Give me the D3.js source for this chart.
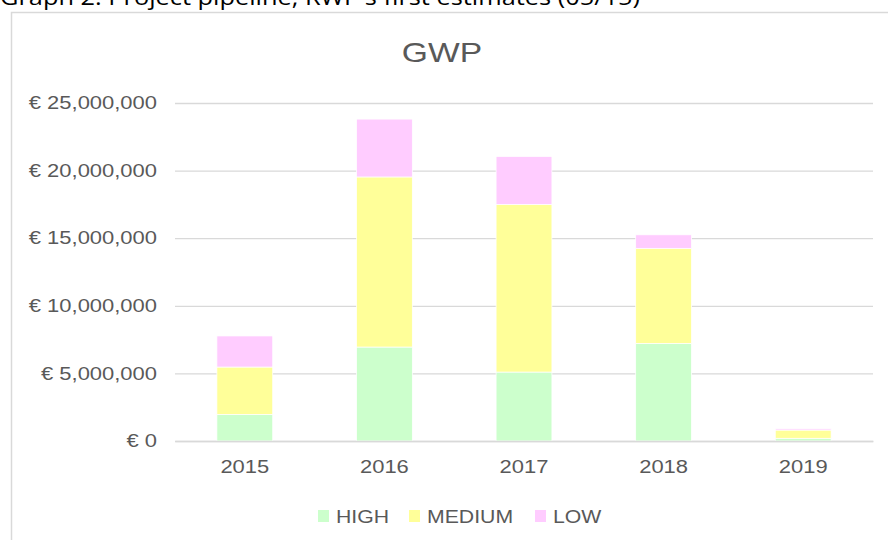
<!DOCTYPE html>
<html>
<head>
<meta charset="utf-8">
<script src="https://cdn.jsdelivr.net/npm/d3@7/dist/d3.min.js"></script>
<style>
  body { margin: 0; background: #fff; }
  svg { display: block; }
</style>
</head>
<body>
<svg id="chart"></svg>
<script>
var width = 888,
    height = 540;

// data (euro)
var years = ["2015", "2016", "2017", "2018", "2019"];
var high = [1970000, 6950000, 5100000, 7220000, 200000];
var medium = [3500000, 12580000, 12400000, 7030000, 610000];
var low = [2300000, 4280000, 3550000, 1000000, 100000];
var seriesNames = ["HIGH", "MEDIUM", "LOW"];
var seriesColors = ["#ccffcc", "#ffff99", "#ffccff"];
var yTicks = [0, 5000000, 10000000, 15000000, 20000000, 25000000];

var svg = d3.select("#chart")
    .attr("width", width)
    .attr("height", height);

// the source picture is stretched sideways, so widen the texts a bit
function stretch(sel, k) {
    sel.each(function() {
        var w = this.getComputedTextLength();
        d3.select(this)
            .attr("textLength", w * k)
            .attr("lengthAdjust", "spacingAndGlyphs");
    });
}

// caption above the chart frame (cut off at the top of the page)
svg.append("text")
    .attr("x", 0)
    .attr("y", 5)
    .style("font-family", "'Open Sans', 'Noto Sans', sans-serif")
    .style("font-size", "22px")
    .style("fill", "#000")
    .text("Graph 2: Project pipeline, RWP's first estimates (05/15)")
    .attr("textLength", 640)
    .attr("lengthAdjust", "spacingAndGlyphs");

// chart frame
svg.append("rect")
    .attr("x", 11.5)
    .attr("y", 12.5)
    .attr("width", 900)
    .attr("height", 600)
    .style("fill", "#fff")
    .style("stroke", "#d9d9d9")
    .style("stroke-width", 1.5);

var margin = {top: 103, right: 15, bottom: 99, left: 175};
var plotW = width - margin.left - margin.right,
    plotH = height - margin.top - margin.bottom;

var g = svg.append("g")
    .attr("transform", "translate(" + margin.left + "," + margin.top + ")");

var x = d3.scaleBand().domain(years).range([0, plotW]).paddingInner(0.6).paddingOuter(0.3);
var y = d3.scaleLinear().domain([0, 25000000]).range([plotH, 0]);

var rows = years.map(function(yr, i) {
    return {year: yr, HIGH: high[i], MEDIUM: medium[i], LOW: low[i]};
});
var stacked = d3.stack().keys(seriesNames)(rows);

var fmt = function(d) { return "€ " + d3.format(",")(d); };

// gridlines + y labels
var yAxis = g.append("g")
    .call(d3.axisLeft(y).tickValues(yTicks).tickSize(-plotW).tickFormat(fmt).tickPadding(18));
yAxis.select(".domain").remove();
yAxis.selectAll(".tick line").style("stroke", "#d9d9d9").style("stroke-width", 1.3);
yAxis.selectAll(".tick text")
    .style("font-family", "'Liberation Sans', Arial, sans-serif")
    .style("font-size", "18px")
    .style("fill", "#595959")
    .call(stretch, 1.22);

// stacked bars
g.selectAll(".layer")
    .data(stacked)
    .enter().append("g")
        .attr("class", "layer")
        .style("fill", function(d, i) { return seriesColors[i]; })
    .selectAll("rect")
    .data(function(d) { return d; })
    .enter().append("rect")
        .attr("x", function(d) { return x(d.data.year); })
        .attr("y", function(d) { return y(d[1]); })
        .attr("width", x.bandwidth())
        .attr("height", function(d) { return y(d[0]) - y(d[1]); })
        .style("stroke", "#fff")
        .style("stroke-width", 0.75);

// x axis
var xAxis = g.append("g")
    .attr("transform", "translate(0," + plotH + ")")
    .call(d3.axisBottom(x).tickSize(0).tickPadding(19));
xAxis.select(".domain").style("stroke", "#d9d9d9").style("stroke-width", 1.3);
xAxis.selectAll(".tick text")
    .style("font-family", "'Liberation Sans', Arial, sans-serif")
    .style("font-size", "18px")
    .style("fill", "#595959")
    .call(stretch, 1.22);

// chart title
svg.append("text")
    .attr("x", 442)
    .attr("y", 62)
    .attr("text-anchor", "middle")
    .style("font-family", "'Liberation Sans', Arial, sans-serif")
    .style("font-size", "28px")
    .style("fill", "#595959")
    .text("GWP")
    .call(stretch, 1.2);

// legend
var legendX = [318, 409, 535];
var legend = svg.selectAll(".legend")
    .data(seriesNames)
    .enter().append("g")
    .attr("class", "legend")
    .attr("transform", function(d, i) { return "translate(" + legendX[i] + ",510)"; });

legend.append("rect")
    .attr("width", 11)
    .attr("height", 12)
    .style("fill", function(d, i) { return seriesColors[i]; });

legend.append("text")
    .attr("x", 18)
    .attr("y", 12.5)
    .style("font-family", "'Liberation Sans', Arial, sans-serif")
    .style("font-size", "18px")
    .style("fill", "#595959")
    .text(function(d) { return d; })
    .call(stretch, 1.18);
</script>
</body>
</html>
